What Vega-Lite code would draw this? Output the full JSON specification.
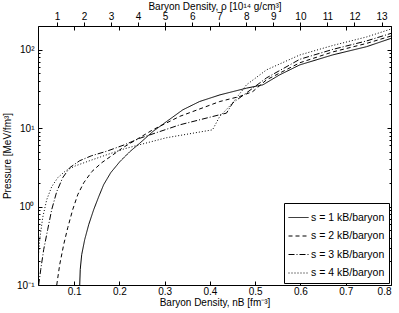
{
  "$schema": "https://vega.github.io/schema/vega-lite/v6.json",
  "autosize": "none",
  "width": 353,
  "height": 259,
  "padding": {"left": 38, "top": 26, "right": 8, "bottom": 28},
  "config": {
    "view": {"stroke": "black", "strokeWidth": 1},
    "font": "Liberation Sans",
    "axis": {"grid": false, "domain": false, "labelFont": "Liberation Sans", "titleFont": "Liberation Sans", "labelFontSize": 10, "titleFontSize": 10, "titleFontWeight": "normal", "labelColor": "black", "titleColor": "black", "tickColor": "black"},
    "legend": {"labelFont": "Liberation Sans"}
  },
  "resolve": {"scale": {"x": "independent", "y": "independent"}, "axis": {"x": "independent", "y": "independent"}},
  "layer": [
    {
      "data": {"values": [
        {"s": "s = 1 kB/baryon", "nB": 0.1122, "P": 0.1},
        {"s": "s = 1 kB/baryon", "nB": 0.1133, "P": 0.157},
        {"s": "s = 1 kB/baryon", "nB": 0.1166, "P": 0.244},
        {"s": "s = 1 kB/baryon", "nB": 0.1232, "P": 0.379},
        {"s": "s = 1 kB/baryon", "nB": 0.1321, "P": 0.589},
        {"s": "s = 1 kB/baryon", "nB": 0.1431, "P": 0.914},
        {"s": "s = 1 kB/baryon", "nB": 0.1542, "P": 1.337},
        {"s": "s = 1 kB/baryon", "nB": 0.1651, "P": 1.9},
        {"s": "s = 1 kB/baryon", "nB": 0.1807, "P": 2.7},
        {"s": "s = 1 kB/baryon", "nB": 0.2006, "P": 3.72},
        {"s": "s = 1 kB/baryon", "nB": 0.2227, "P": 4.99},
        {"s": "s = 1 kB/baryon", "nB": 0.2448, "P": 6.41},
        {"s": "s = 1 kB/baryon", "nB": 0.274, "P": 9.06},
        {"s": "s = 1 kB/baryon", "nB": 0.304, "P": 12.1},
        {"s": "s = 1 kB/baryon", "nB": 0.340, "P": 17.1},
        {"s": "s = 1 kB/baryon", "nB": 0.377, "P": 21.8},
        {"s": "s = 1 kB/baryon", "nB": 0.422, "P": 26.5},
        {"s": "s = 1 kB/baryon", "nB": 0.481, "P": 32.3},
        {"s": "s = 1 kB/baryon", "nB": 0.517, "P": 35.6},
        {"s": "s = 1 kB/baryon", "nB": 0.554, "P": 47.7},
        {"s": "s = 1 kB/baryon", "nB": 0.5985, "P": 63.9},
        {"s": "s = 1 kB/baryon", "nB": 0.6714, "P": 85.7},
        {"s": "s = 1 kB/baryon", "nB": 0.746, "P": 109},
        {"s": "s = 1 kB/baryon", "nB": 0.8, "P": 139},
        {"s": "s = 2 kB/baryon", "nB": 0.0614, "P": 0.1},
        {"s": "s = 2 kB/baryon", "nB": 0.068, "P": 0.182},
        {"s": "s = 2 kB/baryon", "nB": 0.0768, "P": 0.328},
        {"s": "s = 2 kB/baryon", "nB": 0.0858, "P": 0.539},
        {"s": "s = 2 kB/baryon", "nB": 0.0967, "P": 0.914},
        {"s": "s = 2 kB/baryon", "nB": 0.1079, "P": 1.42},
        {"s": "s = 2 kB/baryon", "nB": 0.1211, "P": 2.01},
        {"s": "s = 2 kB/baryon", "nB": 0.1387, "P": 2.78},
        {"s": "s = 2 kB/baryon", "nB": 0.1608, "P": 3.62},
        {"s": "s = 2 kB/baryon", "nB": 0.1829, "P": 4.45},
        {"s": "s = 2 kB/baryon", "nB": 0.2072, "P": 5.61},
        {"s": "s = 2 kB/baryon", "nB": 0.2735, "P": 9.5},
        {"s": "s = 2 kB/baryon", "nB": 0.3332, "P": 14.1},
        {"s": "s = 2 kB/baryon", "nB": 0.4216, "P": 21.8},
        {"s": "s = 2 kB/baryon", "nB": 0.4658, "P": 25.3},
        {"s": "s = 2 kB/baryon", "nB": 0.4945, "P": 29.2},
        {"s": "s = 2 kB/baryon", "nB": 0.5249, "P": 41.2},
        {"s": "s = 2 kB/baryon", "nB": 0.5985, "P": 68},
        {"s": "s = 2 kB/baryon", "nB": 0.6714, "P": 93.5},
        {"s": "s = 2 kB/baryon", "nB": 0.746, "P": 120},
        {"s": "s = 2 kB/baryon", "nB": 0.8, "P": 149},
        {"s": "s = 3 kB/baryon", "nB": 0.0215, "P": 0.1},
        {"s": "s = 3 kB/baryon", "nB": 0.026, "P": 0.157},
        {"s": "s = 3 kB/baryon", "nB": 0.0326, "P": 0.283},
        {"s": "s = 3 kB/baryon", "nB": 0.0414, "P": 0.509},
        {"s": "s = 3 kB/baryon", "nB": 0.0503, "P": 0.914},
        {"s": "s = 3 kB/baryon", "nB": 0.0614, "P": 1.55},
        {"s": "s = 3 kB/baryon", "nB": 0.0746, "P": 2.33},
        {"s": "s = 3 kB/baryon", "nB": 0.0901, "P": 3.13},
        {"s": "s = 3 kB/baryon", "nB": 0.1122, "P": 3.84},
        {"s": "s = 3 kB/baryon", "nB": 0.1387, "P": 4.45},
        {"s": "s = 3 kB/baryon", "nB": 0.1719, "P": 5.07},
        {"s": "s = 3 kB/baryon", "nB": 0.2116, "P": 6.14},
        {"s": "s = 3 kB/baryon", "nB": 0.2448, "P": 7.41},
        {"s": "s = 3 kB/baryon", "nB": 0.3332, "P": 11.0},
        {"s": "s = 3 kB/baryon", "nB": 0.4216, "P": 14.8},
        {"s": "s = 3 kB/baryon", "nB": 0.4364, "P": 15.5},
        {"s": "s = 3 kB/baryon", "nB": 0.4505, "P": 21},
        {"s": "s = 3 kB/baryon", "nB": 0.4807, "P": 28.1},
        {"s": "s = 3 kB/baryon", "nB": 0.5249, "P": 43.6},
        {"s": "s = 3 kB/baryon", "nB": 0.5985, "P": 75.3},
        {"s": "s = 3 kB/baryon", "nB": 0.6714, "P": 100.7},
        {"s": "s = 3 kB/baryon", "nB": 0.746, "P": 129},
        {"s": "s = 3 kB/baryon", "nB": 0.8, "P": 161},
        {"s": "s = 4 kB/baryon", "nB": 0.02, "P": 0.199},
        {"s": "s = 4 kB/baryon", "nB": 0.0238, "P": 0.379},
        {"s": "s = 4 kB/baryon", "nB": 0.0304, "P": 0.723},
        {"s": "s = 4 kB/baryon", "nB": 0.0392, "P": 1.22},
        {"s": "s = 4 kB/baryon", "nB": 0.0503, "P": 1.79},
        {"s": "s = 4 kB/baryon", "nB": 0.0636, "P": 2.33},
        {"s": "s = 4 kB/baryon", "nB": 0.0812, "P": 2.86},
        {"s": "s = 4 kB/baryon", "nB": 0.1033, "P": 3.31},
        {"s": "s = 4 kB/baryon", "nB": 0.1343, "P": 3.84},
        {"s": "s = 4 kB/baryon", "nB": 0.1719, "P": 4.57},
        {"s": "s = 4 kB/baryon", "nB": 0.2116, "P": 5.46},
        {"s": "s = 4 kB/baryon", "nB": 0.2448, "P": 6.14},
        {"s": "s = 4 kB/baryon", "nB": 0.3038, "P": 7.53},
        {"s": "s = 4 kB/baryon", "nB": 0.4057, "P": 9.5},
        {"s": "s = 4 kB/baryon", "nB": 0.4216, "P": 14.1},
        {"s": "s = 4 kB/baryon", "nB": 0.4505, "P": 21},
        {"s": "s = 4 kB/baryon", "nB": 0.4807, "P": 35.6},
        {"s": "s = 4 kB/baryon", "nB": 0.5249, "P": 55.2},
        {"s": "s = 4 kB/baryon", "nB": 0.5985, "P": 85.5},
        {"s": "s = 4 kB/baryon", "nB": 0.6714, "P": 113},
        {"s": "s = 4 kB/baryon", "nB": 0.746, "P": 145},
        {"s": "s = 4 kB/baryon", "nB": 0.8, "P": 183}
      ]},
      "mark": {"type": "line", "strokeWidth": 1, "clip": true},
      "encoding": {
        "x": {"field": "nB", "type": "quantitative", "scale": {"domain": [0.02, 0.8], "nice": false, "zero": false},
          "axis": {"orient": "bottom", "values": [0.1, 0.2, 0.3, 0.4, 0.5, 0.6, 0.7, 0.8], "format": ".1f", "tickSize": -4, "labelPadding": 5, "title": "Baryon Density, nB [fm⁻³]", "titlePadding": 1}},
        "y": {"field": "P", "type": "quantitative", "scale": {"type": "log", "domain": [0.1, 200], "nice": false},
          "axis": {"orient": "left", "values": [0.1, 0.2, 0.3, 0.4, 0.5, 0.6, 0.7, 0.8, 0.9, 1, 2, 3, 4, 5, 6, 7, 8, 9, 10, 20, 30, 40, 50, 60, 70, 80, 90, 100, 200],
            "labelExpr": "datum.value == 0.1 ? '10⁻¹' : datum.value == 1 ? '10⁰' : datum.value == 10 ? '10¹' : datum.value == 100 ? '10²' : ''",
            "tickSize": {"condition": {"test": "datum.value == 0.1 || datum.value == 1 || datum.value == 10 || datum.value == 100", "value": -4}, "value": -2},
            "labelPadding": 8, "title": "Pressure [MeV/fm³]", "titlePadding": 4}},
        "strokeDash": {"field": "s", "type": "nominal", "scale": {"range": [[1, 0], [4, 3], [6, 2, 1, 2], [1, 2]]},
          "legend": {"orient": "bottom-right", "offset": 2, "title": null, "strokeColor": "black", "fillColor": "white", "padding": 4, "labelFontSize": 10.5, "labelColor": "black", "symbolType": "stroke", "symbolSize": 400, "symbolStrokeWidth": 1, "symbolStrokeColor": "black", "rowPadding": 2.5, "labelOffset": 2, "cornerRadius": 0}},
        "color": {"value": "black"}
      }
    },
    {
      "data": {"values": [{"rho": 1}, {"rho": 2}, {"rho": 3}, {"rho": 4}, {"rho": 5}, {"rho": 6}, {"rho": 7}, {"rho": 8}, {"rho": 9}, {"rho": 10}, {"rho": 11}, {"rho": 12}, {"rho": 13}]},
      "mark": {"type": "point", "opacity": 0},
      "encoding": {
        "x": {"field": "rho", "type": "quantitative", "scale": {"domain": [0.3, 13.35], "nice": false, "zero": false},
          "axis": {"orient": "top", "values": [1, 2, 3, 4, 5, 6, 7, 8, 9, 10, 11, 12, 13], "tickSize": 4, "labelPadding": 1, "title": "Baryon Density, ρ [10¹⁴ g/cm³]", "titlePadding": 0}}
      }
    },
    {
      "data": {"values": [{"nB": 0.1}, {"nB": 0.2}, {"nB": 0.3}, {"nB": 0.4}, {"nB": 0.5}, {"nB": 0.6}, {"nB": 0.7}, {"nB": 0.8}]},
      "mark": {"type": "point", "opacity": 0},
      "encoding": {
        "x": {"field": "nB", "type": "quantitative", "scale": {"domain": [0.02, 0.8], "nice": false, "zero": false},
          "axis": {"orient": "top", "values": [0.1, 0.2, 0.3, 0.4, 0.5, 0.6, 0.7, 0.8], "labels": false, "tickSize": -4, "title": null}}
      }
    },
    {
      "data": {"values": [{"P": 1}, {"P": 10}]},
      "mark": {"type": "point", "opacity": 0},
      "encoding": {
        "y": {"field": "P", "type": "quantitative", "scale": {"type": "log", "domain": [0.1, 200], "nice": false},
          "axis": {"orient": "right", "values": [0.1, 0.2, 0.3, 0.4, 0.5, 0.6, 0.7, 0.8, 0.9, 1, 2, 3, 4, 5, 6, 7, 8, 9, 10, 20, 30, 40, 50, 60, 70, 80, 90, 100, 200], "labels": false, "title": null,
            "tickSize": {"condition": {"test": "datum.value == 0.1 || datum.value == 1 || datum.value == 10 || datum.value == 100", "value": -4}, "value": -2}}}
      }
    }
  ]
}
